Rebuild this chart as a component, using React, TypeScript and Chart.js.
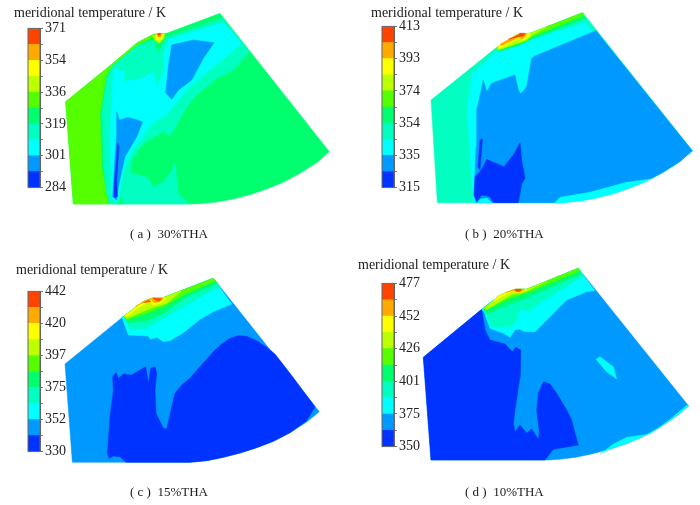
import React, { useEffect, useRef } from 'react';
import { Chart, registerables } from 'chart.js';
Chart.register(...registerables);

const FONT = '"Liberation Serif", serif';

// colour of each of the 10 contour bands, coldest first
const bandColors = ['#0033ff', '#0099ff', '#00ffff', '#00ffc0', '#00ff6e', '#55ff00', '#bbff00', '#ffff00', '#ffaa00', '#ff4400'];

// band edges of the colour bars (K)
const levelsA = [284, 292.7, 301.4, 310.1, 318.8, 327.5, 336.2, 344.9, 353.6, 362.3, 371];
const levelsB = [315, 324.8, 334.6, 344.4, 354.2, 364, 373.8, 383.6, 393.4, 403.2, 413];
const levelsC = [330, 341.2, 352.4, 363.6, 374.8, 386, 397.2, 408.4, 419.6, 430.8, 442];
const levelsD = [350, 362.7, 375.4, 388.1, 400.8, 413.5, 426.2, 438.9, 451.6, 464.3, 477];

type Region = { band: number; outline: number[][] };

// contour regions, painted in order, in domain units of each panel
const regionsA: Region[] = [
  { band: 4, outline: [[197, 305], [330, 197], [412, 128], [462, 102], [500, 100], [660, 40], [988, 455], [950, 488], [900, 520], [850, 547], [800, 567], [750, 584], [700, 597], [650, 606], [600, 611], [570, 612], [220, 612]] },
  { band: 5, outline: [[197, 305], [330, 197], [412, 128], [462, 102], [466, 108], [412, 134], [345, 190], [318, 225], [300, 340], [305, 500], [322, 600], [326, 612], [220, 612]] },
  { band: 3, outline: [[335, 200], [412, 137], [462, 120], [475, 155], [500, 112], [668, 54], [748, 155], [700, 210], [650, 235], [590, 285], [560, 320], [530, 375], [510, 408], [490, 395], [430, 430], [395, 480], [390, 520], [440, 530], [460, 562], [490, 545], [510, 520], [525, 490], [535, 580], [568, 612], [330, 612], [318, 570], [310, 480], [306, 340], [320, 240]] },
  { band: 2, outline: [[345, 205], [375, 215], [370, 245], [425, 235], [460, 215], [470, 260], [490, 215], [490, 165], [505, 118], [672, 68], [725, 130], [685, 165], [625, 212], [572, 258], [535, 300], [500, 343], [455, 372], [425, 415], [395, 455], [370, 510], [356, 600], [345, 606], [334, 590], [330, 400], [335, 300], [340, 215]] },
  { band: 1, outline: [[515, 135], [580, 120], [642, 128], [610, 175], [575, 240], [535, 270], [515, 298], [497, 278], [505, 200]] },
  { band: 1, outline: [[350, 335], [358, 360], [385, 352], [428, 365], [410, 410], [375, 470], [355, 560], [350, 600], [338, 590], [345, 470], [350, 400]] },
  { band: 0, outline: [[352, 430], [357, 440], [350, 540], [352, 590], [342, 592], [342, 560], [350, 470]] },
  { band: 4, outline: [[355, 612], [362, 590], [372, 612]] },
  { band: 4, outline: [[460, 110], [497, 105], [482, 140], [475, 155], [465, 130]] },
  { band: 6, outline: [[458, 106], [495, 102], [490, 118], [478, 130], [465, 122]] },
  { band: 7, outline: [[465, 105], [490, 102], [486, 115], [477, 122], [468, 115]] },
  { band: 8, outline: [[470, 102], [485, 101], [482, 110], [475, 112]] },
  { band: 9, outline: [[474, 100], [482, 100], [480, 105], [476, 105]] },
];

const regionsB: Region[] = [
  { band: 3, outline: [[243, 300], [440, 142], [505, 102], [540, 100], [698, 38], [1027, 452], [989, 485], [939, 517], [889, 544], [839, 564], [789, 581], [739, 594], [689, 603], [639, 608], [609, 608], [262, 608]] },
  { band: 2, outline: [[372, 608], [362, 500], [352, 315], [368, 220], [442, 152], [540, 120], [706, 68], [1027, 452], [989, 485], [939, 517], [889, 544], [839, 564], [789, 581], [739, 594], [689, 603], [639, 608], [609, 608]] },
  { band: 1, outline: [[738, 92], [1027, 452], [989, 485], [939, 517], [905, 535], [830, 545], [720, 575], [630, 590], [613, 608], [378, 608], [372, 585], [378, 440], [380, 330], [385, 310], [400, 240], [410, 275], [425, 250], [495, 225], [505, 270], [513, 282], [530, 260], [545, 175], [555, 168]] },
  { band: 0, outline: [[375, 530], [390, 515], [400, 500], [410, 478], [430, 487], [462, 500], [490, 465], [510, 428], [515, 480], [525, 535], [515, 552], [505, 608], [430, 608], [420, 590], [395, 585], [380, 605], [372, 585]] },
  { band: 0, outline: [[390, 420], [397, 418], [390, 510], [384, 500]] },
  { band: 2, outline: [[382, 608], [392, 597], [412, 595], [425, 608]] },
  { band: 4, outline: [[440, 145], [505, 102], [540, 100], [698, 38], [706, 55], [545, 118], [510, 135], [445, 155]] },
  { band: 5, outline: [[440, 143], [505, 102], [540, 100], [698, 38], [702, 46], [545, 110], [525, 125], [442, 150]] },
  { band: 6, outline: [[442, 141], [505, 102], [540, 100], [590, 81], [545, 106], [530, 120], [515, 125], [445, 150]] },
  { band: 7, outline: [[445, 138], [505, 102], [540, 100], [535, 112], [520, 120], [510, 112], [450, 145]] },
  { band: 8, outline: [[450, 132], [505, 103], [530, 100], [525, 110], [515, 118], [508, 110], [455, 137]] },
  { band: 9, outline: [[475, 118], [505, 105], [510, 100], [525, 100], [520, 108], [505, 110]] },
];

const regionsC: Region[] = [
  { band: 1, outline: [[195, 342], [372, 198], [430, 155], [460, 143], [490, 143], [640, 85], [958, 485], [920, 516], [870, 548], [820, 574], [770, 593], [720, 609], [670, 622], [620, 632], [570, 637], [540, 637], [217, 637]] },
  { band: 0, outline: [[338, 380], [348, 368], [355, 385], [370, 372], [395, 375], [437, 350], [445, 400], [452, 355], [465, 350], [470, 370], [465, 420], [468, 490], [490, 535], [500, 538], [513, 480], [525, 430], [545, 405], [570, 385], [600, 350], [640, 305], [665, 282], [690, 265], [715, 257], [740, 259], [770, 272], [800, 292], [825, 312], [870, 370], [945, 470], [920, 512], [870, 548], [820, 574], [770, 593], [720, 609], [670, 622], [620, 632], [570, 637], [378, 637], [360, 620], [340, 618], [328, 625], [322, 610], [330, 500], [340, 420]] },
  { band: 2, outline: [[365, 200], [372, 198], [430, 155], [460, 143], [490, 143], [640, 85], [695, 162], [640, 185], [600, 208], [550, 248], [510, 272], [490, 275], [470, 262], [452, 268], [445, 258], [385, 255]] },
  { band: 3, outline: [[372, 198], [430, 155], [460, 143], [490, 143], [640, 85], [660, 110], [600, 142], [490, 205], [440, 235], [390, 238]] },
  { band: 4, outline: [[372, 198], [430, 155], [460, 143], [490, 143], [640, 85], [652, 100], [560, 140], [490, 190], [440, 212], [385, 218]] },
  { band: 5, outline: [[372, 198], [430, 155], [460, 143], [490, 143], [640, 85], [646, 92], [560, 130], [490, 170], [440, 190], [380, 210]] },
  { band: 6, outline: [[372, 198], [430, 155], [460, 143], [490, 143], [545, 122], [500, 160], [460, 172], [380, 205]] },
  { band: 7, outline: [[375, 197], [430, 155], [460, 143], [490, 143], [500, 145], [480, 160], [460, 165], [450, 155], [420, 170], [385, 197]] },
  { band: 8, outline: [[405, 170], [430, 155], [460, 143], [490, 145], [480, 155], [462, 158], [452, 148], [420, 162]] },
  { band: 9, outline: [[460, 145], [485, 146], [478, 152], [465, 150]] },
  { band: 9, outline: [[430, 158], [448, 150], [452, 155]] },
];

const regionsD: Region[] = [
  { band: 1, outline: [[220, 322], [395, 178], [450, 135], [495, 118], [530, 118], [685, 55], [1016, 468], [978, 499], [928, 533], [878, 560], [828, 581], [778, 598], [728, 611], [678, 622], [628, 628], [598, 630], [243, 630]] },
  { band: 0, outline: [[220, 322], [395, 178], [405, 240], [420, 270], [465, 282], [487, 305], [497, 292], [512, 300], [510, 380], [495, 480], [490, 520], [495, 545], [510, 525], [530, 550], [545, 537], [565, 568], [568, 545], [560, 480], [565, 430], [580, 395], [600, 402], [620, 430], [650, 480], [665, 510], [675, 550], [685, 585], [610, 598], [585, 630], [243, 630]] },
  { band: 2, outline: [[738, 328], [750, 320], [790, 350], [800, 387], [770, 365]] },
  { band: 2, outline: [[750, 612], [790, 582], [830, 562], [900, 552], [960, 508], [1010, 466], [1016, 468], [978, 499], [928, 533], [878, 560], [828, 581], [778, 598]] },
  { band: 2, outline: [[395, 178], [450, 135], [495, 118], [530, 118], [685, 55], [735, 122], [710, 125], [650, 150], [555, 245], [525, 245], [508, 238], [495, 240], [480, 262], [460, 250], [420, 235], [402, 185]] },
  { band: 3, outline: [[400, 178], [450, 135], [495, 118], [530, 118], [685, 55], [700, 78], [575, 155], [535, 185], [510, 175], [500, 210], [485, 230], [425, 230], [405, 185]] },
  { band: 4, outline: [[400, 178], [450, 135], [495, 118], [530, 118], [685, 55], [693, 72], [525, 145], [470, 165], [410, 192]] },
  { band: 5, outline: [[402, 176], [450, 135], [495, 118], [530, 118], [685, 55], [690, 62], [530, 128], [480, 145], [407, 180]] },
  { band: 6, outline: [[405, 174], [450, 135], [495, 118], [530, 118], [590, 94], [530, 124], [485, 134], [410, 178]] },
  { band: 7, outline: [[430, 152], [450, 135], [495, 118], [530, 118], [510, 130], [485, 125], [440, 148]] },
  { band: 8, outline: [[465, 128], [495, 118], [525, 118], [510, 127], [492, 122]] },
  { band: 9, outline: [[495, 118], [515, 118], [508, 124], [498, 124]] },
];

function ContourMap({ regions, width, height }: { regions: Region[]; width: number; height: number }) {
  const ref = useRef<HTMLCanvasElement>(null);
  useEffect(() => {
    const chart = new Chart(ref.current!, {
      type: 'scatter',
      data: {
        datasets: regions.map((r, i) => ({
          data: [...r.outline, r.outline[0]].map(([x, y]) => ({ x, y })),
          showLine: true,
          fill: 'shape',
          order: regions.length - i,
          tension: 0,
          pointRadius: 0,
          borderWidth: 0.5,
          borderColor: bandColors[r.band],
          backgroundColor: bandColors[r.band],
        })),
      },
      options: {
        responsive: false,
        animation: false,
        layout: { padding: 0 },
        plugins: { legend: { display: false }, tooltip: { enabled: false } },
        scales: {
          x: { type: 'linear', display: false, min: 0, max: width * 3 },
          y: { type: 'linear', display: false, min: 0, max: height * 3, reverse: true },
        },
      },
    } as any);
    return () => chart.destroy();
  }, [regions, width, height]);
  return <canvas ref={ref} width={width} height={height} style={{ position: 'absolute', left: 0, top: 0 }} />;
}

function ColorBar({ levels, left, top, height }: { levels: number[]; left: number; top: number; height: number }) {
  const ref = useRef<HTMLCanvasElement>(null);
  useEffect(() => {
    const bands = levels.slice(0, -1);
    const chart = new Chart(ref.current!, {
      type: 'bar',
      data: {
        labels: ['T'],
        datasets: bands.map((low, i) => ({
          data: [[low, levels[i + 1]]],
          backgroundColor: bandColors[i],
          barPercentage: 1,
          categoryPercentage: 1,
          grouped: false,
        })),
      },
      options: {
        responsive: false,
        animation: false,
        layout: { padding: { top: 10, bottom: 10, left: 1, right: 0 } },
        plugins: { legend: { display: false }, tooltip: { enabled: false } },
        scales: {
          x: { display: false },
          y: {
            position: 'right',
            min: levels[0],
            max: levels[levels.length - 1],
            afterBuildTicks: (scale: any) => {
              scale.ticks = levels.map((value) => ({ value }));
            },
            afterFit: (scale: any) => {
              scale.width = 33;
            },
            ticks: {
              autoSkip: false,
              padding: 2,
              color: '#222',
              font: { family: FONT, size: 14 },
              callback: (value: any, i: number) => (i % 2 === 0 ? String(Math.round(Number(value))) : ''),
            },
            grid: { drawOnChartArea: false, tickLength: 3, color: '#777', lineWidth: 1 },
            border: { color: '#666', width: 1 },
          },
        },
      },
      plugins: [
        {
          id: 'barFrame',
          afterDraw: (c: any) => {
            const { left: l, top: t, width: w, height: h } = c.chartArea;
            c.ctx.strokeStyle = '#666';
            c.ctx.lineWidth = 1;
            c.ctx.strokeRect(l, t, w, h);
          },
        },
      ],
    } as any);
    return () => chart.destroy();
  }, [levels, height]);
  return (
    <canvas
      ref={ref}
      width={46}
      height={height + 20}
      style={{ position: 'absolute', left: left - 1, top: top - 10 }}
    />
  );
}

function Panel(props: {
  x: number; y: number; w: number; h: number;
  regions: Region[]; levels: number[];
  barX: number; barY: number; barH: number;
  titleX: number; titleY: number;
  caption: string; captionX: number; captionY: number;
}) {
  const { x, y, w, h, regions, levels, barX, barY, barH, titleX, titleY, caption, captionX, captionY } = props;
  const text: React.CSSProperties = { position: 'absolute', fontFamily: FONT, color: '#1a1a1a', whiteSpace: 'pre', lineHeight: 1 };
  return (
    <div style={{ position: 'absolute', left: x, top: y, width: w, height: h }}>
      <ContourMap regions={regions} width={w} height={h} />
      <ColorBar levels={levels} left={barX - x} top={barY - y} height={barH} />
      <span style={{ ...text, left: titleX - x, top: titleY - y, fontSize: 14 }}>meridional temperature / K</span>
      <span style={{ ...text, left: captionX - x, top: captionY - y, fontSize: 13 }}>{caption}</span>
    </div>
  );
}

export default function App() {
  return (
    <div style={{ position: 'absolute', left: 0, top: 0, width: 700, height: 505, background: '#fff', overflow: 'hidden', filter: 'blur(0.5px)' }}>
      <Panel x={0} y={0} w={350} h={245} regions={regionsA} levels={levelsA} barX={28} barY={28} barH={160} titleX={14} titleY={6} caption="( a )  30%THA" captionX={130} captionY={227} />
      <Panel x={350} y={0} w={350} h={245} regions={regionsB} levels={levelsB} barX={382} barY={26} barH={162} titleX={371} titleY={6} caption="( b )  20%THA" captionX={465} captionY={227} />
      <Panel x={0} y={250} w={350} h={255} regions={regionsC} levels={levelsC} barX={28} barY={291} barH={161} titleX={16} titleY={263} caption="( c )  15%THA" captionX={130} captionY={485} />
      <Panel x={350} y={250} w={350} h={255} regions={regionsD} levels={levelsD} barX={382} barY={283} barH={164} titleX={358} titleY={258} caption="( d )  10%THA" captionX={465} captionY={485} />
    </div>
  );
}
